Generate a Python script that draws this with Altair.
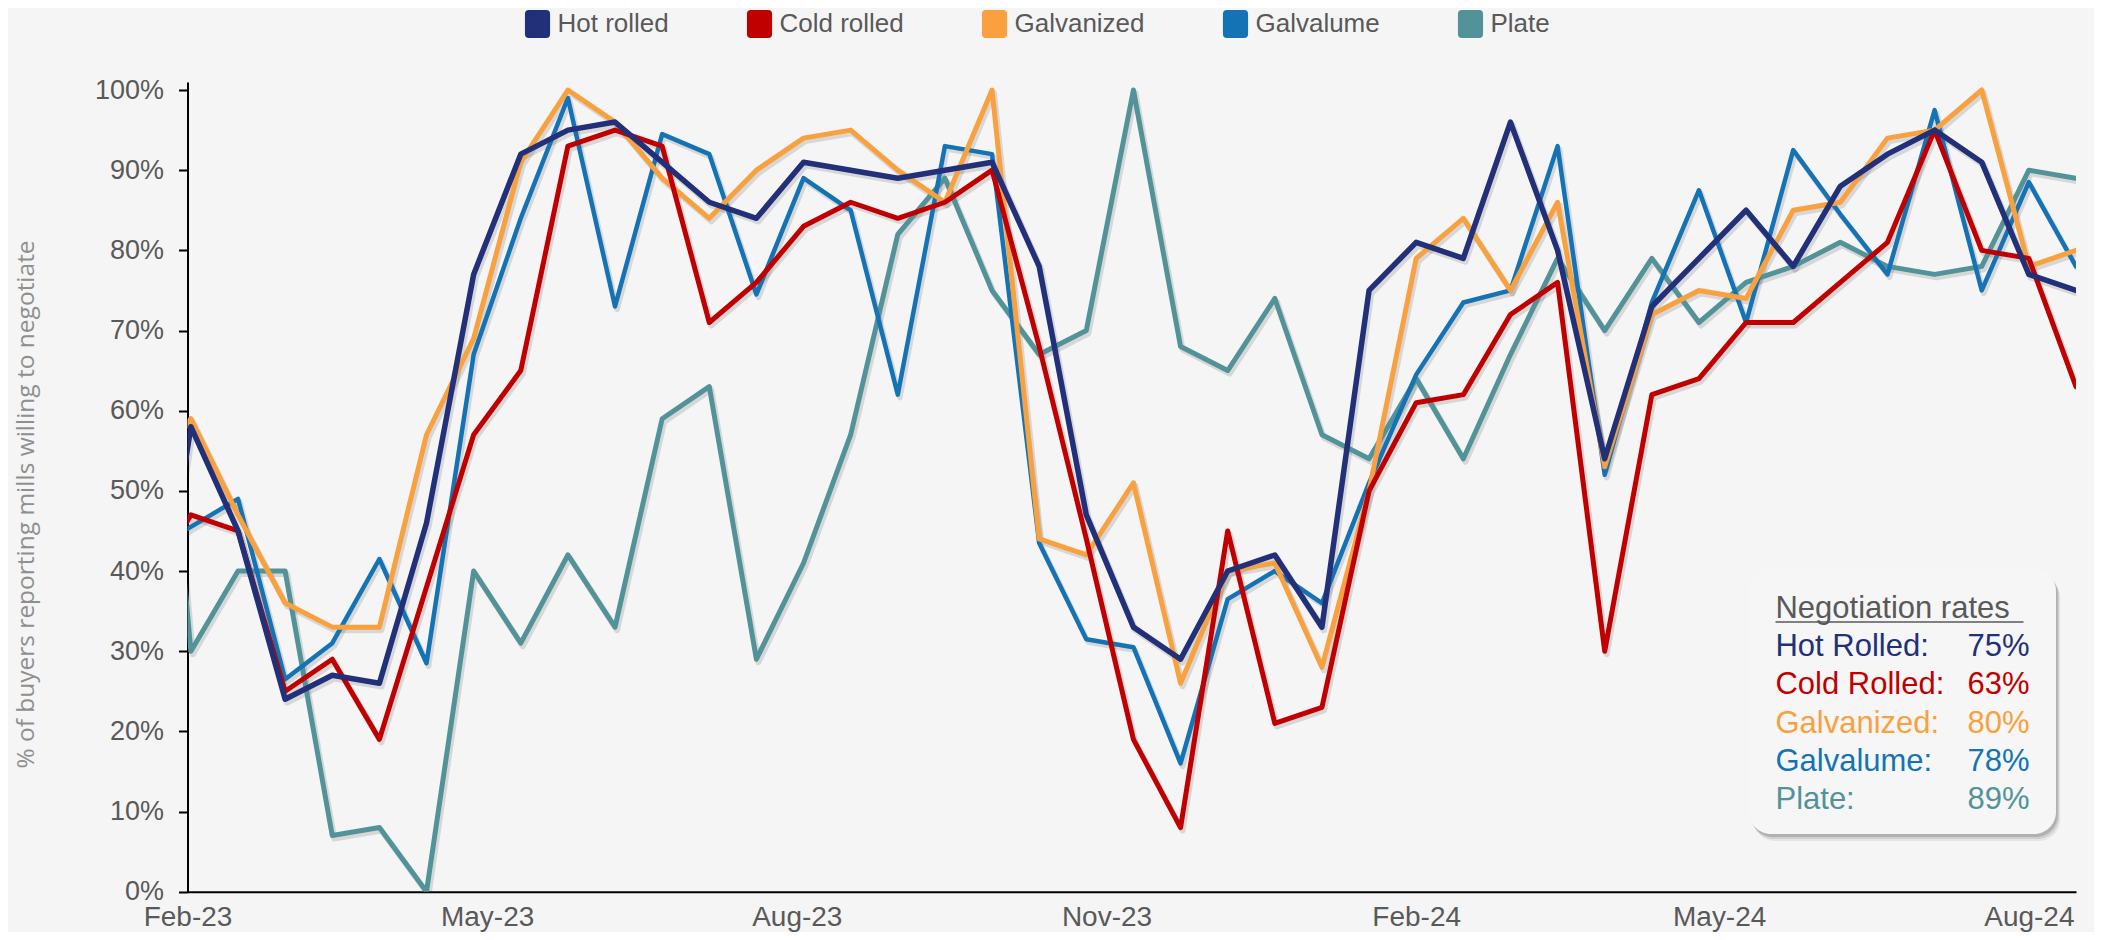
import altair as alt
import pandas as pd

# Biweekly survey dates. The first (19 Jan 2023) lies just left of the axis and is clipped.
dates = pd.date_range("2023-01-19", periods=42, freq="14D")

series = ["Hot rolled", "Cold rolled", "Galvanized", "Galvalume", "Plate"]
box_labels = ["Hot Rolled:", "Cold Rolled:", "Galvanized:", "Galvalume:", "Plate:"]
colors = ["#22307a", "#c00000", "#f9a03f", "#1473b5", "#529399"]

hot_rolled = [20, 58, 45, 24, 27, 26, 46, 77, 92, 95, 96, 91, 86, 84, 91, 90, 89, 90, 91, 78, 47,
              33, 29, 40, 42, 33, 75, 81, 79, 96, 80, 54, 73, 79, 85, 78, 88, 92, 95, 91, 77, 75]
cold_rolled = [37, 47, 45, 25, 29, 19, 38, 57, 65, 93, 95, 93, 71, 76, 83, 86, 84, 86, 90, 68, 44,
               19, 8, 45, 21, 23, 50, 61, 62, 72, 76, 30, 62, 64, 71, 71, 76, 81, 95, 80, 79, 63]
galvanized = [50, 59, 47, 36, 33, 33, 57, 69, 91, 100, 96, 89, 84, 90, 94, 95, 90, 86, 100, 44, 42,
              51, 26, 40, 41, 28, 50, 79, 84, 75, 86, 53, 72, 75, 74, 85, 86, 94, 95, 100, 78, 80]
galvalume = [42, 45.5, 49, 26.5, 31, 41.5, 28.5, 67, 84, 99, 73, 94.5, 92, 74.5, 89, 85, 62, 93, 92,
             43.5, 31.5, 30.5, 16, 36.5, 40, 36, 51, 64.5, 73.5, 75, 93, 52, 73.5, 87.5, 71, 92.5,
             84.5, 77, 97.5, 75, 88.5, 78]
plate = [95, 30, 40, 40, 7, 8, 0, 40, 31, 42, 33, 59, 63, 29, 41, 57, 82, 89, 75, 67, 70,
         100, 68, 65, 74, 57, 54, 64, 54, 67, 79, 70, 79, 71, 76, 78, 81, 78, 77, 78, 90, 89]

values = [hot_rolled, cold_rolled, galvanized, galvalume, plate]
widths = [5.5, 5, 5, 4.5, 5]

tick_months = [(2023, 2), (2023, 5), (2023, 8), (2023, 11), (2024, 2), (2024, 5), (2024, 8)]

rows = []
for s, vals in zip(series, values):
    for d, v in zip(dates, vals):
        rows.append({"date": d, "series": s, "value": v})
df = pd.DataFrame(rows)

FONT = "Liberation Sans"
GREY = "#595959"

x_enc = alt.X(
    "date:T", title=None,
    scale=alt.Scale(domain=[alt.DateTime(year=2023, month=2, date=1),
                            alt.DateTime(year=2024, month=8, date=15)], nice=False),
    axis=alt.Axis(values=[alt.DateTime(year=y, month=m, date=1) for y, m in tick_months],
                  format="%b-%y", labelFontSize=28, labelFont=FONT, labelColor=GREY,
                  labelFlush=False, labelOverlap=False, ticks=False, labelPadding=12,
                  domainColor="#000000", domainWidth=2, grid=False),
)
y_enc = alt.Y(
    "value:Q", title="% of buyers reporting mills willing to negotiate",
    scale=alt.Scale(domain=[0, 101], nice=False),
    axis=alt.Axis(values=list(range(0, 101, 10)), labelExpr="datum.value + '%'",
                  labelFontSize=27, labelFont=FONT, labelColor=GREY,
                  tickSize=9, tickColor="#000000", tickWidth=2,
                  domainColor="#000000", domainWidth=2, labelPadding=15, grid=False,
                  titleFont="Open Sans", titleFontSize=24.5, titleFontWeight="normal",
                  titleColor="#8f8f8f", titleX=-161, titleY=422, titleAngle=270,
                  titleAlign="center", titleBaseline="middle"),
)

layers = []
order = list(range(len(series)))[::-1]
for k in order:
    sub = df[df.series == series[k]]
    layers.append(alt.Chart(sub).mark_line(color="#000000", opacity=0.12, strokeWidth=widths[k] + 1,
                                           xOffset=2, yOffset=3, clip=True, strokeJoin="round")
                  .encode(x=x_enc, y=y_enc))
for k in order:
    sub = df[df.series == series[k]]
    layers.append(alt.Chart(sub).mark_line(color=colors[k], strokeWidth=widths[k], clip=True,
                                           strokeJoin="round", strokeCap="round")
                  .encode(x=x_enc, y=y_enc))

sym = ("M-0.62,-1 L0.62,-1 Q0.9,-1 0.9,-0.72 L0.9,0.72 Q0.9,1 0.62,1 L-0.62,1 Q-0.9,1 -0.9,0.72 "
       "L-0.9,-0.72 Q-0.9,-1 -0.62,-1 Z")
layers.append(
    alt.Chart(df).mark_point(filled=True, opacity=0, size=1).encode(
        x=x_enc, y=y_enc,
        color=alt.Color("series:N", scale=alt.Scale(domain=series, range=colors),
                        legend=alt.Legend(title=None, orient="none", legendX=336, legendY=-72,
                                          direction="horizontal", columns=5, symbolType=sym,
                                          symbolSize=780, symbolOpacity=1, symbolStrokeWidth=0,
                                          labelFont=FONT, labelFontSize=26, labelColor=GREY,
                                          labelOffset=6, columnPadding=76, padding=0)),
    )
)

one = pd.DataFrame({"k": [0]})
BX0, BX1, BY0, BY1 = 1561.5, 1868.5, 487, 752
for off, op in [(7, 0.10), (5, 0.15), (3, 0.25)]:
    layers.append(alt.Chart(one).mark_rect(cornerRadius=22, color="#555555", opacity=op).encode(
        x=alt.value(BX0 + off * 0.6), x2=alt.value(BX1 + off * 0.6),
        y=alt.value(BY0 + off), y2=alt.value(BY1 + off)))
layers.append(alt.Chart(one).mark_rect(cornerRadius=22, color="#f6f6f6").encode(
    x=alt.value(BX0), x2=alt.value(BX1), y=alt.value(BY0), y2=alt.value(BY1)))

layers.append(alt.Chart(pd.DataFrame({"t": ["Negotiation rates"]})).mark_text(
    align="left", baseline="alphabetic", font=FONT, fontSize=31, color=GREY).encode(
    text="t:N", x=alt.value(1588), y=alt.value(536)))
layers.append(alt.Chart(one).mark_rule(color=GREY, strokeWidth=1.5).encode(
    x=alt.value(1588), x2=alt.value(1836), y=alt.value(540)))

for k in range(len(series)):
    yb = 574 + 38.3 * k
    layers.append(alt.Chart(pd.DataFrame({"t": [box_labels[k]]})).mark_text(
        align="left", baseline="alphabetic", font=FONT, fontSize=31, color=colors[k]).encode(
        text="t:N", x=alt.value(1588), y=alt.value(yb)))
    layers.append(alt.Chart(pd.DataFrame({"t": [f"{values[k][-1]:g}%"]})).mark_text(
        align="right", baseline="alphabetic", font=FONT, fontSize=31, color=colors[k]).encode(
        text="t:N", x=alt.value(1842), y=alt.value(yb)))

chart = alt.layer(*layers).properties(
    width=1888.5, height=809.7,
    autosize=alt.AutoSizeParams(type="none"),
    padding={"left": 179.5, "top": 74, "right": 18, "bottom": 40},
).configure(background="#f5f5f5").configure_view(stroke=None)

chart.save("out.html", embed_options={"renderer": "svg", "actions": False})
